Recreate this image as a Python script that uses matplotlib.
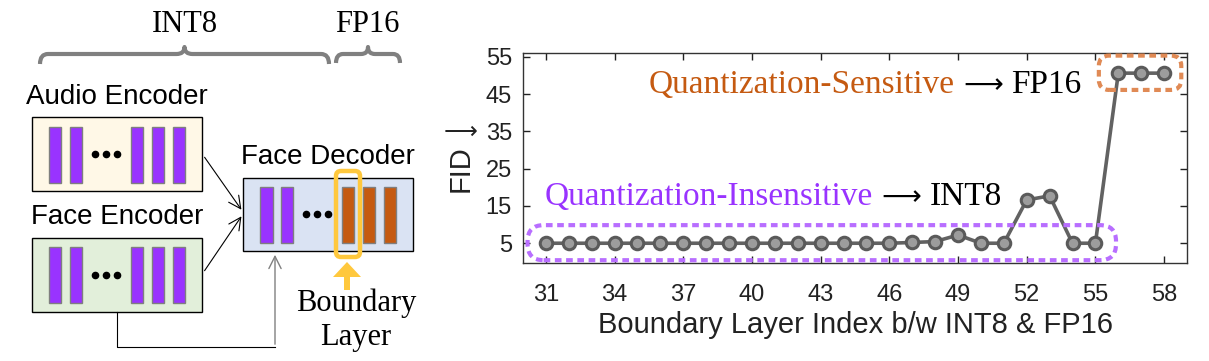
import matplotlib
matplotlib.use("Agg")
import matplotlib.pyplot as plt
from matplotlib.patches import FancyBboxPatch, Rectangle, PathPatch, FancyArrow
from matplotlib.path import Path
from matplotlib.offsetbox import TextArea, HPacker, AnnotationBbox

# -- Data ---------------------------------------------------------------------
layers = list(range(31, 59))
fid = [5.0, 5.0, 5.0, 5.0, 5.0, 5.0, 5.0, 5.0, 5.0, 5.0,
       5.0, 5.0, 5.0, 5.0, 5.0, 5.0, 5.2, 5.45, 7.2, 5.0,
       5.0, 16.6, 17.7, 5.0, 5.0, 50.6, 50.6, 50.6]
xticks = list(range(31, 59, 3))
yticks = [5, 15, 25, 35, 45, 55]

# -- Colours / fonts ----------------------------------------------------------
PURPLE = "#9933FF"
PURPLE_BOX = "#B86EFF"
ORANGE = "#C55A11"
ORANGE_BOX = "#E08A55"
YELLOW = "#FFC83D"
GRAY = "#808080"
LINE = "#626262"
SANS = ["Liberation Sans", "DejaVu Sans"]
SERIF = ["Liberation Serif", "DejaVu Serif"]
LONG_ARROW = "\u27f6"

W, H = 1209, 361
fig = plt.figure(figsize=(W / 100, H / 100), dpi=100)

# =============================================================================
# Left: architecture diagram (pixel coordinates)
# =============================================================================
dg = fig.add_axes([0, 0, 1, 1])
dg.set_xlim(0, W)
dg.set_ylim(H, 0)
dg.axis("off")


def brace(x0, x1, y, h=10, h2=7, r=8):
    xm = (x0 + x1) / 2
    verts = [(x0, y + h), (x0, y), (x0 + r, y), (xm - r, y), (xm, y), (xm, y - h2),
             (xm, y), (xm + r, y), (x1 - r, y), (x1, y), (x1, y + h)]
    codes = [Path.MOVETO, Path.CURVE3, Path.CURVE3, Path.LINETO, Path.CURVE3, Path.CURVE3,
             Path.CURVE3, Path.CURVE3, Path.LINETO, Path.CURVE3, Path.CURVE3]
    dg.add_patch(PathPatch(Path(verts, codes), fill=False, edgecolor=GRAY,
                           lw=3, capstyle="butt", joinstyle="round"))


brace(40, 329, 54)
brace(336, 400, 54, h=9, h2=7, r=7)
dg.text(185, 24, "INT8", ha="center", va="center", fontsize=22, family=SERIF)
dg.text(367, 24, "FP16", ha="center", va="center", fontsize=22, family=SERIF)


def block(x0, y0, x1, y1, face):
    dg.add_patch(Rectangle((x0, y0), x1 - x0, y1 - y0, facecolor=face,
                           edgecolor="black", lw=1))


def bar(x0, x1, y0, y1, color):
    dg.add_patch(Rectangle((x0, y0), x1 - x0, y1 - y0, facecolor=color,
                           edgecolor="#7F7F7F", lw=1))


def dots(xs, y):
    dg.scatter(xs, [y] * len(xs), s=20, color="black", zorder=5)


enc_bars = [(49, 61), (70, 82), (131, 143), (152, 164), (173, 185)]

# Audio encoder
dg.text(117, 97, "Audio Encoder", ha="center", va="center", fontsize=20, family=SANS)
block(32, 117, 202, 191, "#FFF8E7")
for a, b in enc_bars:
    bar(a, b, 127, 183, PURPLE)
dots([95, 106, 117], 154)

# Face encoder
dg.text(117, 217, "Face Encoder", ha="center", va="center", fontsize=20, family=SANS)
block(32, 238, 202, 312, "#E2EFDA")
for a, b in enc_bars:
    bar(a, b, 247, 303, PURPLE)
dots([95, 106, 117], 275)

# Face decoder
dg.text(328, 157, "Face Decoder", ha="center", va="center", fontsize=20, family=SANS)
block(243, 178, 413, 251, "#DAE3F3")
for a, b in [(260, 273), (281, 293)]:
    bar(a, b, 187, 243, PURPLE)
for a, b in [(342, 354), (363, 375), (384, 396)]:
    bar(a, b, 187, 243, ORANGE)
dots([306, 317, 328], 214)

# boundary highlight
dg.add_patch(FancyBboxPatch((336, 171), 24, 86, boxstyle="round,pad=0,rounding_size=5",
                            facecolor="none", edgecolor=YELLOW, lw=3.2, zorder=6))
dg.add_patch(FancyArrow(347, 290, 0, -28, width=6, head_width=28, head_length=15,
                        length_includes_head=True, color=YELLOW, lw=0))
dg.text(356, 303, "Boundary", ha="center", va="center", fontsize=22, family=SERIF)
dg.text(356, 338, "Layer", ha="center", va="center", fontsize=22, family=SERIF)

# connections
arrow_kw = dict(arrowstyle="->", color="black", lw=0.8, mutation_scale=22)
dg.annotate("", xy=(243, 212), xytext=(203, 155), arrowprops=arrow_kw)
dg.annotate("", xy=(243, 214), xytext=(203, 273), arrowprops=arrow_kw)
dg.plot([117, 117, 275], [312, 347, 347], color="black", lw=0.8)
dg.annotate("", xy=(275, 252), xytext=(275, 347),
            arrowprops=dict(arrowstyle="->", color=GRAY, lw=1.0, mutation_scale=22))

# =============================================================================
# Right: FID vs boundary layer
# =============================================================================
ax = fig.add_axes([523 / W, (H - 263) / H, 664 / W, 210 / H])
ax.plot(layers, fid, color=LINE, lw=2.6, marker="o", ms=9, mew=2.2,
        mec="#5A5A5A", mfc="#9C9C9C", zorder=3)
ax.set_xlim(30, 59)
ax.set_ylim(-0.3, 56)
ax.set_xticks(xticks)
ax.set_yticks(yticks)
ax.tick_params(direction="in", length=5, width=1, top=True, right=True,
               labelsize=17, colors="#222222")
ax.tick_params(axis="x", pad=15)
ax.tick_params(axis="y", pad=8)
for lab in ax.get_xticklabels() + ax.get_yticklabels():
    lab.set_family(SANS)
for sp in ax.spines.values():
    sp.set_color("#333333")
    sp.set_linewidth(1)

ax.set_xlabel("Boundary Layer Index b/w INT8 & FP16", fontsize=21, family=SANS,
              color="#222222", labelpad=4)
ax.text(-0.094, 0.45, "FID", transform=ax.transAxes, rotation=90, ha="center",
        va="center", fontsize=21, family=SANS, color="#222222")
ax.text(-0.094, 0.625, LONG_ARROW, transform=ax.transAxes, ha="center", va="center",
        fontsize=17, family="DejaVu Sans", color="#222222")

# dotted group outlines, corners kept round through the aspect ratio
bb = ax.get_position()
px_x = bb.width * W / (59 - 30)
px_y = bb.height * H / (56 + 0.3)
m = px_x / px_y
ax.add_patch(FancyBboxPatch((30.2, 0.45), 55.9 - 30.2, 9.85 - 0.45,
                            boxstyle="round,pad=0,rounding_size=0.7", mutation_aspect=m,
                            facecolor="none", edgecolor=PURPLE_BOX, lw=3,
                            linestyle=(0, (1.6, 1.1)), zorder=4, clip_on=False))
ax.add_patch(FancyBboxPatch((55.15, 46.1), 58.75 - 55.15, 55.3 - 46.1,
                            boxstyle="round,pad=0,rounding_size=0.45", mutation_aspect=m,
                            facecolor="none", edgecolor=ORANGE_BOX, lw=3,
                            linestyle=(0, (1.6, 1.1)), zorder=4, clip_on=False))


def label_line(x, y, word, color, target):
    parts = [
        TextArea(word, textprops=dict(fontsize=24, family=SERIF, color=color)),
        TextArea(LONG_ARROW, textprops=dict(fontsize=20, family="DejaVu Sans",
                                            color="black")),
        TextArea(target, textprops=dict(fontsize=24, family=SERIF, color="black")),
    ]
    pack = HPacker(children=parts, align="baseline", pad=0, sep=6)
    ab = AnnotationBbox(pack, (x, y), xycoords="data", box_alignment=(0, 0.5),
                        frameon=False, pad=0, zorder=5)
    ax.add_artist(ab)


label_line(30.95, 17.4, "Quantization-Insensitive", PURPLE, "INT8")
label_line(35.5, 47.5, "Quantization-Sensitive", ORANGE, "FP16")

fig.savefig("out.png", dpi=100, facecolor="white")
